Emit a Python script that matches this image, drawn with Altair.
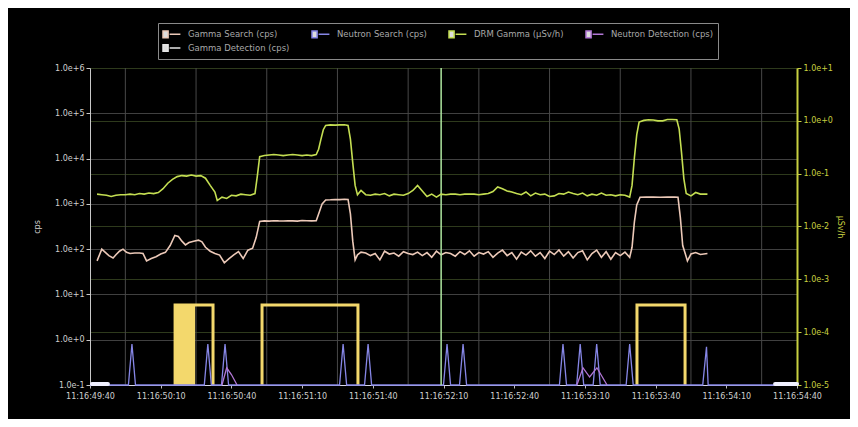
import altair as alt
import pandas as pd

# ---------------- data ----------------
x_labels = ["11:16:49:40", "11:16:50:10", "11:16:50:40", "11:16:51:10", "11:16:51:40",
            "11:16:52:10", "11:16:52:40", "11:16:53:10", "11:16:53:40", "11:16:54:10",
            "11:16:54:40"]
x_ticks = [0, 30, 60, 90, 120, 150, 180, 210, 240, 270, 300]
grid_x = [15, 45, 75, 105, 135, 165, 195, 225, 255, 285]
left_ticks = [0.1, 1, 10, 100, 1000, 10000, 100000, 1000000]
right_ticks = [0.00001, 0.0001, 0.001, 0.01, 0.1, 1, 10]

series_names = ["Gamma Search (cps)", "Neutron Search (cps)", "DRM Gamma (\u00b5Sv/h)",
                "Neutron Detection (cps)", "Gamma Detection (cps)"]
series_colors = ["#ecc9b8", "#8686e6", "#c4de52", "#b277d6", "#e6e6e6"]

# DRM Gamma (uSv/h) - right axis
green_t = [3, 5, 7, 9, 11, 13, 15, 17, 19, 21, 23, 25, 27, 29, 31, 33, 35, 37, 39, 41, 43, 45, 47, 49,
           51, 53, 54, 56, 58, 60, 62, 64, 66, 68, 70, 71, 72, 74, 76, 78, 80, 82, 84, 86, 88, 90, 92,
           94, 96, 97, 98, 99, 100, 102, 104, 106, 108, 109.5, 110.5, 111.5, 112.5, 113.5, 115, 117,
           119, 121, 123, 125, 127, 129, 131, 133, 135, 137, 139, 141, 143, 145, 147, 149, 151, 153,
           155, 157, 159, 161, 163, 165, 167, 169, 171, 173, 175, 177, 179, 181, 183, 185, 187, 189,
           191, 193, 195, 197, 199, 201, 203, 205, 207, 209, 211, 213, 215, 217, 219, 221, 223, 225,
           227, 229, 230, 231, 232, 233, 235, 237, 239, 241, 243, 245, 247, 249, 250, 251, 252, 253,
           255, 257, 259, 262]
green_v = [0.041, 0.040, 0.039, 0.037, 0.039, 0.040, 0.040, 0.041, 0.040, 0.042, 0.041, 0.043, 0.042,
           0.044, 0.052, 0.066, 0.078, 0.088, 0.092, 0.090, 0.094, 0.090, 0.092, 0.082, 0.060, 0.045,
           0.031, 0.036, 0.034, 0.039, 0.038, 0.041, 0.040, 0.039, 0.042, 0.09, 0.21, 0.22, 0.225,
           0.23, 0.225, 0.22, 0.225, 0.23, 0.225, 0.22, 0.225, 0.22, 0.23, 0.29, 0.45, 0.68, 0.82,
           0.84, 0.83, 0.84, 0.84, 0.82, 0.45, 0.16, 0.06, 0.040, 0.048, 0.040, 0.039, 0.041, 0.040,
           0.042, 0.038, 0.041, 0.040, 0.039, 0.042, 0.048, 0.060, 0.047, 0.037, 0.041, 0.036, 0.041,
           0.040, 0.041, 0.041, 0.040, 0.041, 0.041, 0.041, 0.040, 0.041, 0.042, 0.046, 0.056, 0.052,
           0.047, 0.045, 0.042, 0.040, 0.045, 0.038, 0.043, 0.040, 0.041, 0.037, 0.038, 0.042, 0.041,
           0.045, 0.042, 0.040, 0.043, 0.038, 0.041, 0.039, 0.043, 0.039, 0.040, 0.038, 0.040, 0.039,
           0.036, 0.06, 0.20, 0.55, 0.95, 1.02, 1.05, 1.04, 1.00, 1.00, 1.06, 1.06, 1.05, 0.70, 0.25,
           0.08, 0.042, 0.038, 0.044, 0.041, 0.041]

# Gamma Search (cps) - left axis
pink_t = [3, 5, 6.5, 8, 9.8, 11, 12.5, 14, 15.5, 17, 19, 21, 22.5, 24, 26, 28, 30, 32, 34, 36, 37.5,
          39, 40.5, 42, 44, 46, 47.5, 49, 51, 53, 55, 57, 59, 61, 63, 65, 67, 69, 70.5, 72, 74, 76, 78,
          80, 82, 84, 86, 88, 90, 92, 94, 96, 97, 98.5, 100, 102, 104, 106, 108, 109.5, 110.5, 111.5,
          112.5, 113.5, 115, 117, 119, 121, 123, 125, 127, 129, 131, 133, 135, 137, 139, 141, 143, 145,
          147, 149, 151, 153, 155, 157, 159, 161, 163, 165, 167, 169, 171, 173, 175, 177, 179, 181,
          183, 185, 187, 189, 191, 193, 195, 197, 199, 201, 203, 205, 207, 209, 211, 213, 215, 217,
          219, 221, 223, 225, 227, 229, 230, 231, 232, 233.4, 236, 239, 242, 245, 248, 249.5, 250.5,
          251.5, 252.5, 253.5, 255, 257, 259, 262]
pink_v = [55, 100, 85, 72, 64, 75, 90, 100, 85, 80, 82, 82, 80, 55, 62, 68, 78, 85, 120, 200, 190, 150,
          124, 140, 150, 158, 145, 110, 90, 80, 74, 50, 62, 75, 88, 62, 95, 105, 180, 410, 420, 415,
          425, 420, 418, 422, 420, 415, 430, 425, 420, 425, 600, 1000, 1220, 1230, 1250, 1240, 1260,
          1250, 600, 150, 58, 75, 86, 82, 72, 80, 58, 90, 78, 82, 70, 88, 80, 76, 86, 72, 84, 66, 90,
          75, 84, 80, 70, 88, 76, 92, 70, 84, 78, 88, 66, 82, 95, 72, 84, 60, 86, 74, 92, 70, 84, 62,
          90, 76, 96, 70, 88, 64, 84, 92, 58, 80, 95, 66, 88, 60, 84, 72, 86, 66, 110, 400, 950, 1400,
          1410, 1420, 1400, 1420, 1410, 1400, 500, 120, 82, 55, 78, 84, 76, 80]

# Neutron Search (cps) - left axis
blue_t = [0, 16.3, 17.8, 19.3, 48.5, 50, 51.5, 55.8, 57.3, 58.8, 105.9, 107.4, 108.9, 116.5, 118,
          119.5, 150, 151.5, 153, 156.8, 158.3, 159.8, 199.2, 200.7, 202.2, 206.5, 208, 209.5, 213.5,
          215, 216.5, 227.5, 229, 230.5, 260, 261.6, 262.3, 300]
blue_v = [0.1, 0.1, 0.8, 0.1, 0.1, 0.8, 0.1, 0.1, 0.8, 0.1, 0.1, 0.8, 0.1, 0.1, 0.8, 0.1, 0.1, 0.8,
          0.1, 0.1, 0.8, 0.1, 0.1, 0.8, 0.1, 0.1, 0.8, 0.1, 0.1, 0.8, 0.1, 0.1, 0.8, 0.1, 0.1, 0.7,
          0.1, 0.1]

# Neutron Detection (cps) - left axis
purple_t = [56, 58, 60, 62.4, 206.6, 209.2, 212, 215.1, 219.4]
purple_v = [0.1, 0.24, 0.17, 0.1, 0.1, 0.24, 0.15, 0.24, 0.1]
purple_g = [1, 1, 1, 1, 2, 2, 2, 2, 2]

# alarm windows (left axis)
alarm_t = [36.1, 36.1, 52.2, 52.2, 73, 73, 113.7, 113.7, 232.1, 232.1, 252.5, 252.5]
alarm_v = [0.1, 5.85, 5.85, 0.1, 0.1, 5.85, 5.85, 0.1, 0.1, 5.85, 5.85, 0.1]
alarm_g = [1, 1, 1, 1, 2, 2, 2, 2, 3, 3, 3, 3]
fill_start = [36.1]
fill_end = [44.6]
fill_top = [5.85]
fill_bottom = [0.1]

# out-of-range markers on the time axis
white_t = [0.8, 7.6, 290.7, 300]
white_v = [0.105, 0.105, 0.105, 0.105]
white_g = [1, 1, 2, 2]

cursor_t = [149]

# ---------------- frames ----------------
green_df = pd.DataFrame({"t": green_t, "v": green_v, "s": series_names[2]})
green_df["i"] = range(len(green_df))
pink_df = pd.DataFrame({"t": pink_t, "v": pink_v, "s": series_names[0]})
pink_df["i"] = range(len(pink_df))
blue_df = pd.DataFrame({"t": blue_t, "v": blue_v, "s": series_names[1]})
blue_df["i"] = range(len(blue_df))
purple_df = pd.DataFrame({"t": purple_t, "v": purple_v, "g": purple_g, "s": series_names[3]})
purple_df["i"] = range(len(purple_df))
alarm_df = pd.DataFrame({"t": alarm_t, "v": alarm_v, "g": alarm_g})
alarm_df["i"] = range(len(alarm_df))
fill_df = pd.DataFrame({"t": fill_start, "t2": fill_end, "v": fill_top, "v2": fill_bottom})
white_df = pd.DataFrame({"t": white_t, "v": white_v, "g": white_g})
grid_df = pd.DataFrame({"t": grid_x})
cursor_df = pd.DataFrame({"t": cursor_t})

# ---------------- scales / encodings ----------------
label_expr = "[" + ",".join("'" + s + "'" for s in x_labels) + "][round(datum.value/30)]"
xscale = alt.Scale(domain=[0, 300], nice=False, zero=False)
X = alt.X("t:Q", scale=xscale,
          axis=alt.Axis(values=x_ticks, labelExpr=label_expr, title=None, grid=False,
                        labelFlush=False, domainColor="#d8d8e8", tickColor="#bbbbbb",
                        tickSize=3, labelColor="#cfcfcf", labelFontSize=8, labelPadding=4))
yl_scale = alt.Scale(type="log", domain=[0.1, 1000000], nice=False)
YL = alt.Y("v:Q", scale=yl_scale,
           axis=alt.Axis(values=left_ticks, format=".1e", title="cps", orient="left",
                         grid=True, gridColor="#404040", domainColor="#c8c8c8",
                         tickColor="#c8c8c8", tickSize=4, labelColor="#cfcfcf", labelFontSize=8,
                         titleColor="#cfcfcf", titleFontSize=8, titleFontWeight="normal",
                         titlePadding=13))
yr_scale = alt.Scale(type="log", domain=[0.00001, 10], nice=False)
YR = alt.Y("v:Q", scale=yr_scale,
           axis=alt.Axis(values=right_ticks, format=".1e", title="\u00b5Sv/h", orient="right",
                         grid=True, gridColor="#2e3a1c", domainColor="#c8d040", domainWidth=2,
                         tickColor="#c8d040", tickSize=4, labelColor="#c8d040", labelFontSize=8,
                         titleColor="#c8d040", titleFontSize=8, titleFontWeight="normal",
                         titlePadding=3))

color = alt.Color("s:N", scale=alt.Scale(domain=series_names, range=series_colors),
                  legend=alt.Legend(title=None, orient="none", legendX=68, legendY=-45,
                                    direction="horizontal", columns=4, values=series_names,
                                    symbolType="M-1,-0.55H-0.15V0.55H-1Z M0.1,0H1.9",
                                    symbolSize=144, symbolStrokeWidth=1.5,
                                    symbolFillColor="#dddddd", labelOffset=12,
                                    labelColor="#a8a8a8", labelFontSize=8.5, columnPadding=19,
                                    rowPadding=0, padding=4, strokeColor="#8a8a8a",
                                    fillColor="#000000", labelLimit=200))

grid = alt.Chart(grid_df).mark_rule(color="#484848", strokeWidth=1).encode(x=X)
pink = alt.Chart(pink_df).mark_line(strokeWidth=1.6).encode(x=X, y=YL, color=color, order="i:Q")
blue = alt.Chart(blue_df).mark_line(strokeWidth=1.3).encode(x=X, y=YL, color=color, order="i:Q")
purple = alt.Chart(purple_df).mark_line(strokeWidth=1.3).encode(
    x=X, y=YL, color=color, detail="g:N", order="i:Q")
alarm = alt.Chart(alarm_df).mark_line(color="#f3d86c", strokeWidth=3).encode(
    x=X, y=YL, detail="g:N", order="i:Q")
fill = alt.Chart(fill_df).mark_rect(color="#f3d86c").encode(
    x=X, x2="t2:Q", y=YL, y2="v2:Q")
white = alt.Chart(white_df).mark_line(color="#f0f0ff", strokeWidth=4, strokeCap="round").encode(
    x=X, y=YL, detail="g:N")
cursor = alt.Chart(cursor_df).mark_rule(color="#aee6a0", strokeWidth=1.5).encode(x=X)

left = alt.layer(grid, alarm, fill, pink, blue, purple, white, cursor)
right = alt.layer(
    alt.Chart(green_df).mark_line(strokeWidth=1.6).encode(x=X, y=YR, color=color, order="i:Q"))

chart = alt.layer(left, right).resolve_scale(y="independent").properties(
    width=707, height=317, background="#000000",
    autosize=alt.AutoSizeParams(type="none"),
    padding={"left": 82, "top": 60, "right": 53, "bottom": 34},
).configure_view(stroke=None).configure_axis(labelFont="DejaVu Sans", titleFont="DejaVu Sans"
).configure_legend(labelFont="DejaVu Sans")

chart.save("out.html", embed_options={"renderer": "svg", "actions": False})
